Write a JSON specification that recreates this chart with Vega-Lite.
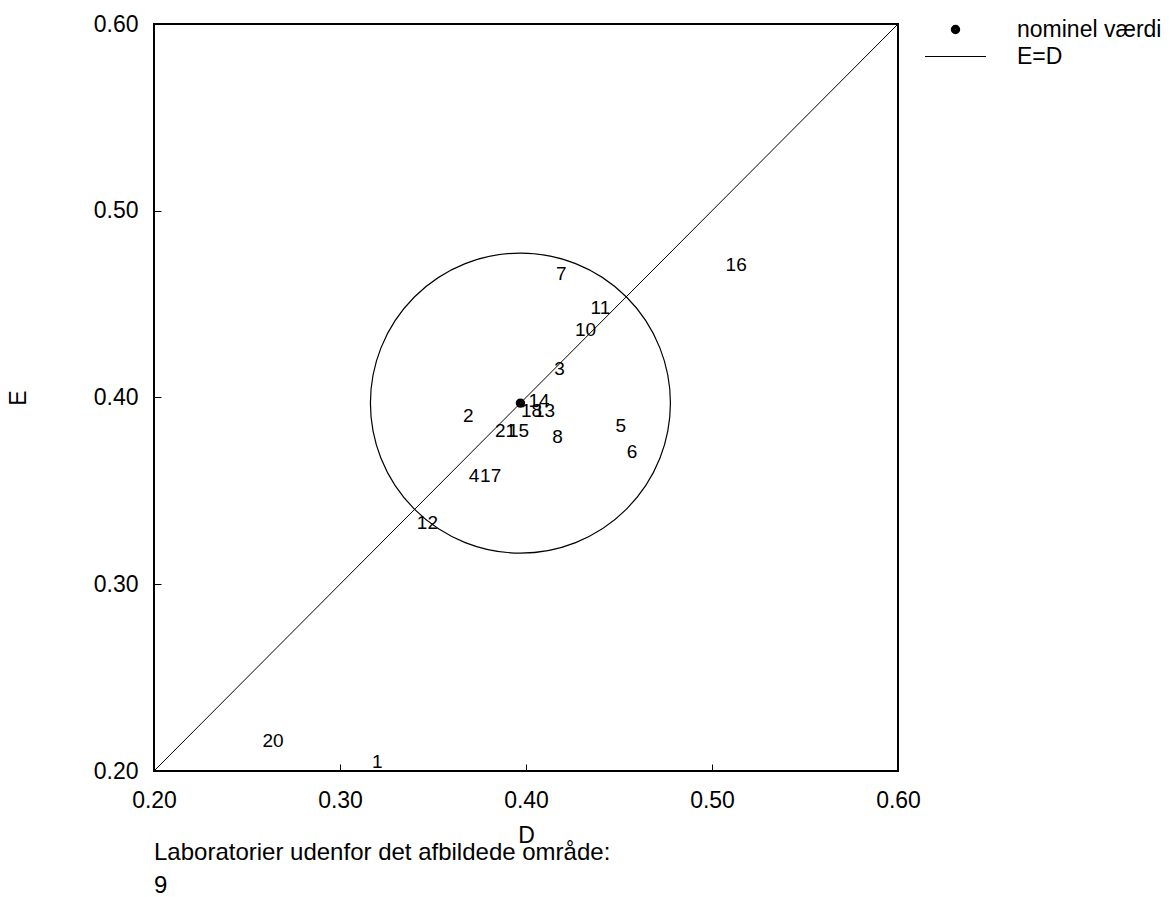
{
  "$schema": "https://vega.github.io/schema/vega-lite/v6.json",
  "width": 744,
  "height": 747,
  "autosize": {"type": "none"},
  "padding": {"left": 154, "top": 24, "right": 275, "bottom": 126},
  "background": "white",
  "config": {
    "font": "Liberation Sans",
    "view": {"stroke": "black", "strokeWidth": 2},
    "axis": {
      "grid": false,
      "domain": false,
      "labelFlush": false,
      "labelOverlap": false,
      "tickColor": "black",
      "tickSize": -7,
      "labelColor": "black",
      "labelFont": "Liberation Sans",
      "labelFontSize": 23,
      "titleColor": "black",
      "titleFont": "Liberation Sans",
      "titleFontSize": 23,
      "titleFontWeight": "normal"
    },
    "legend": {
      "orient": "none",
      "legendX": 789,
      "legendY": -7,
      "padding": 0,
      "labelFont": "Liberation Sans",
      "labelFontSize": 23,
      "labelColor": "black",
      "labelOffset": 49,
      "rowPadding": 3,
      "symbolSize": 400,
      "symbolStrokeColor": "black"
    }
  },
  "title": {
    "text": ["Laboratorier udenfor det afbildede område:", "9"],
    "orient": "bottom",
    "anchor": "start",
    "frame": "group",
    "baseline": "top",
    "font": "Liberation Sans",
    "fontSize": 24,
    "fontWeight": "normal",
    "color": "black",
    "lineHeight": 33,
    "offset": -6
  },
  "datasets": {
    "nominel": [{"D": 0.397, "E": 0.397, "serie": "nominel værdi"}],
    "diagonal": [{"D": 0.2, "E": 0.2}, {"D": 0.6, "E": 0.6}],
    "lab": [
      {"lab": "1", "D": 0.320, "E": 0.205},
      {"lab": "2", "D": 0.369, "E": 0.390},
      {"lab": "3", "D": 0.418, "E": 0.415},
      {"lab": "4", "D": 0.372, "E": 0.358},
      {"lab": "5", "D": 0.451, "E": 0.385},
      {"lab": "6", "D": 0.457, "E": 0.371},
      {"lab": "7", "D": 0.419, "E": 0.466},
      {"lab": "8", "D": 0.417, "E": 0.379},
      {"lab": "10", "D": 0.432, "E": 0.436},
      {"lab": "11", "D": 0.440, "E": 0.448},
      {"lab": "12", "D": 0.347, "E": 0.333},
      {"lab": "13", "D": 0.410, "E": 0.393},
      {"lab": "14", "D": 0.407, "E": 0.398},
      {"lab": "15", "D": 0.396, "E": 0.382},
      {"lab": "16", "D": 0.513, "E": 0.471},
      {"lab": "17", "D": 0.381, "E": 0.358},
      {"lab": "18", "D": 0.403, "E": 0.393},
      {"lab": "20", "D": 0.264, "E": 0.216},
      {"lab": "21", "D": 0.389, "E": 0.382}
    ]
  },
  "encoding": {
    "x": {
      "field": "D",
      "type": "quantitative",
      "scale": {"domain": [0.2, 0.6], "nice": false, "zero": false},
      "axis": {"values": [0.2, 0.3, 0.4, 0.5, 0.6], "format": ".2f", "labelPadding": 25, "title": "D", "titlePadding": 12}
    },
    "y": {
      "field": "E",
      "type": "quantitative",
      "scale": {"domain": [0.2, 0.6], "nice": false, "zero": false},
      "axis": {"values": [0.2, 0.3, 0.4, 0.5, 0.6], "format": ".2f", "labelPadding": 23, "title": "E", "titlePadding": 63}
    }
  },
  "layer": [
    {
      "data": {"name": "diagonal"},
      "mark": {"type": "line", "color": "black", "strokeWidth": 1}
    },
    {
      "data": {"name": "nominel"},
      "mark": {"type": "point", "shape": "circle", "size": 90000, "filled": false, "stroke": "black", "strokeWidth": 1.2, "opacity": 1}
    },
    {
      "data": {"name": "nominel"},
      "mark": {"type": "point", "filled": false, "color": "black", "stroke": "black", "size": 400, "opacity": 1},
      "encoding": {
        "shape": {
          "field": "serie",
          "type": "nominal",
          "title": null,
          "scale": {
            "domain": ["nominel værdi", "E=D"],
            "range": ["M-0.22,0A0.22,0.22 0 1,0 0.22,0A0.22,0.22 0 1,0 -0.22,0Z", "M-3.05,0L3.05,0"]
          }
        },
        "strokeWidth": {
          "field": "serie",
          "type": "ordinal",
          "title": null,
          "scale": {
            "domain": ["nominel værdi", "E=D"],
            "range": [5, 1]
          }
        }
      }
    },
    {
      "data": {"name": "lab"},
      "mark": {"type": "text", "font": "Liberation Sans", "fontSize": 19, "color": "black", "align": "center", "baseline": "middle"},
      "encoding": {"text": {"field": "lab", "type": "nominal"}}
    }
  ]
}
